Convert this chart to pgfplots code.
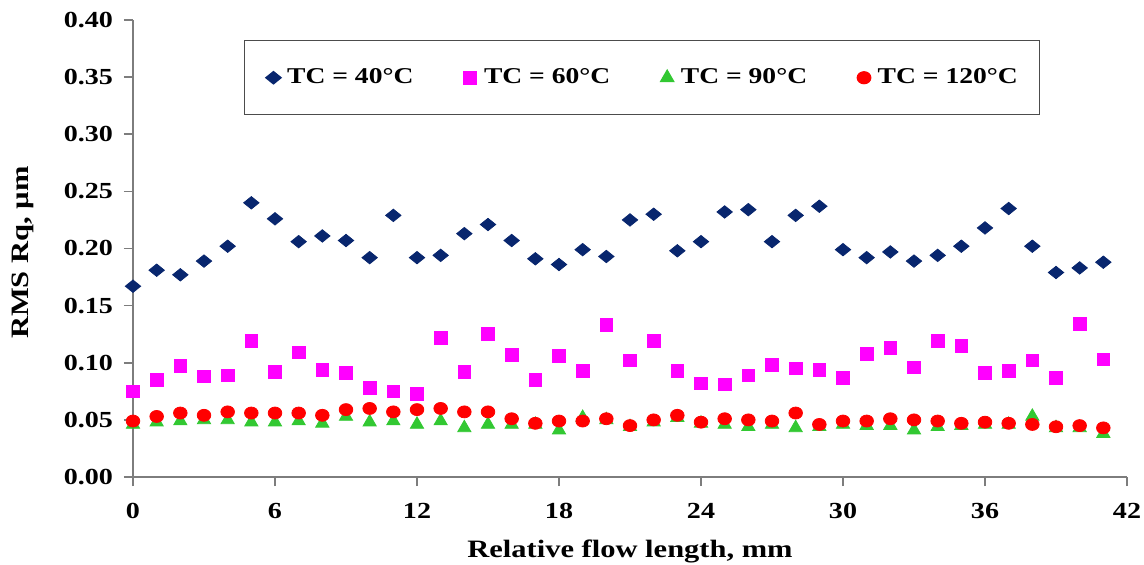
\documentclass[border=0pt]{standalone}
\usepackage{fontspec}
\setmainfont{Liberation Serif}[FakeStretch=1.22]
\usepackage{pgfplots}
\pgfplotsset{compat=1.18}

\definecolor{tcnavy}{RGB}{8,38,110}
\definecolor{tcmagenta}{RGB}{255,0,255}
\definecolor{tcgreen}{RGB}{50,200,50}
\definecolor{tcred}{RGB}{255,0,0}
\definecolor{axisgray}{RGB}{125,125,125}

\begin{document}
\begin{tikzpicture}
\path[use as bounding box, fill=white] (-66.5pt,-43.5pt) rectangle (505.5pt,238.5pt);
\begin{axis}[
  at={(0,0)}, anchor=origin,
  scale only axis,
  width=497pt, height=228.5pt,
  xmin=0, xmax=42, ymin=0, ymax=0.40,
  xtick={0,6,...,42},
  ytick={0,0.05,...,0.40},
  axis x line*=bottom, axis y line*=left,
  axis line style={axisgray, line width=0.8pt},
  every tick/.style={axisgray, line width=0.8pt},
  tick align=outside,
  major tick length=4.5pt,
  /pgf/number format/assume math mode=true,
  yticklabel={\pgfmathprintnumber[fixed,fixed zerofill,precision=2]{\tick}},
  ticklabel style={font=\bfseries\fontsize{11.5}{13}\selectfont},
  yticklabel style={xshift=-2pt},
  xticklabel style={yshift=-5pt},
  xlabel={Relative flow length, mm},
  ylabel={RMS Rq, µm},
  label style={font=\bfseries\fontsize{12.5}{15}\selectfont},
  xlabel style={at={(axis description cs:0.5,0)}, anchor=center, yshift=-37pt},
  ylabel style={at={(axis description cs:0,0.5)}, anchor=center, yshift=55pt, xshift=-2pt},
  legend columns=4,
  legend style={at={(axis description cs:0.1117,0.956)}, anchor=north west,
    draw=black!70, line width=0.6pt, inner xsep=9pt, inner ysep=12pt,
    font=\bfseries\fontsize{11.3}{13}\selectfont,
    /tikz/every even column/.append style={column sep=21pt}},
  legend image code/.code={%
    \path (0cm,0cm) (0.34cm,0cm);
    \draw[mark repeat=2,mark phase=2] plot coordinates {(0cm,0cm)(0.18cm,0cm)(0.34cm,0cm)};},
  clip=false,
]
% TC = 40 C
\addplot[only marks, mark=diamond*, mark size=3.1pt, color=tcnavy,
  mark options={xscale=1.65}] coordinates {
(0,0.167)(1,0.181)(2,0.177)(3,0.189)(4,0.202)(5,0.240)(6,0.226)(7,0.206)
(8,0.211)(9,0.207)(10,0.192)(11,0.229)(12,0.192)(13,0.194)(14,0.213)(15,0.221)
(16,0.207)(17,0.191)(18,0.186)(19,0.199)(20,0.193)(21,0.225)(22,0.230)(23,0.198)
(24,0.206)(25,0.232)(26,0.234)(27,0.206)(28,0.229)(29,0.237)(30,0.199)(31,0.192)
(32,0.197)(33,0.189)(34,0.194)(35,0.202)(36,0.218)(37,0.235)(38,0.202)(39,0.179)
(40,0.183)(41,0.188)};
\addlegendentry{TC = 40°C}
% TC = 60 C
\addplot[only marks, mark=square*, mark size=3.2pt, color=tcmagenta] coordinates {
(0,0.075)(1,0.085)(2,0.097)(3,0.088)(4,0.089)(5,0.119)(6,0.092)(7,0.109)
(8,0.094)(9,0.091)(10,0.078)(11,0.075)(12,0.073)(13,0.122)(14,0.092)(15,0.125)
(16,0.107)(17,0.085)(18,0.106)(19,0.093)(20,0.133)(21,0.102)(22,0.119)(23,0.093)
(24,0.082)(25,0.081)(26,0.089)(27,0.098)(28,0.095)(29,0.094)(30,0.087)(31,0.108)
(32,0.113)(33,0.096)(34,0.119)(35,0.115)(36,0.091)(37,0.093)(38,0.102)(39,0.087)
(40,0.134)(41,0.103)};
\addlegendentry{TC = 60°C}
% TC = 90 C
\addplot[only marks, mark=triangle*, mark size=3.8pt, color=tcgreen] coordinates {
(0,0.046)(1,0.048)(2,0.049)(3,0.050)(4,0.050)(5,0.048)(6,0.048)(7,0.049)
(8,0.047)(9,0.053)(10,0.048)(11,0.049)(12,0.046)(13,0.049)(14,0.043)(15,0.046)
(16,0.046)(17,0.046)(18,0.041)(19,0.052)(20,0.050)(21,0.044)(22,0.048)(23,0.052)
(24,0.047)(25,0.046)(26,0.044)(27,0.046)(28,0.043)(29,0.044)(30,0.046)(31,0.045)
(32,0.045)(33,0.041)(34,0.044)(35,0.045)(36,0.046)(37,0.046)(38,0.053)(39,0.043)
(40,0.043)(41,0.038)};
\addlegendentry{TC = 90°C}
% TC = 120 C
\addplot[only marks, mark=*, mark size=3.4pt, color=tcred,
  mark options={yscale=0.88}] coordinates {
(0,0.049)(1,0.053)(2,0.056)(3,0.054)(4,0.057)(5,0.056)(6,0.056)(7,0.056)
(8,0.054)(9,0.059)(10,0.060)(11,0.057)(12,0.059)(13,0.060)(14,0.057)(15,0.057)
(16,0.051)(17,0.047)(18,0.049)(19,0.049)(20,0.051)(21,0.045)(22,0.050)(23,0.054)
(24,0.048)(25,0.051)(26,0.050)(27,0.049)(28,0.056)(29,0.046)(30,0.049)(31,0.049)
(32,0.051)(33,0.050)(34,0.049)(35,0.047)(36,0.048)(37,0.047)(38,0.046)(39,0.044)
(40,0.045)(41,0.043)};
\addlegendentry{TC = 120°C}
\end{axis}
\end{tikzpicture}
\end{document}
